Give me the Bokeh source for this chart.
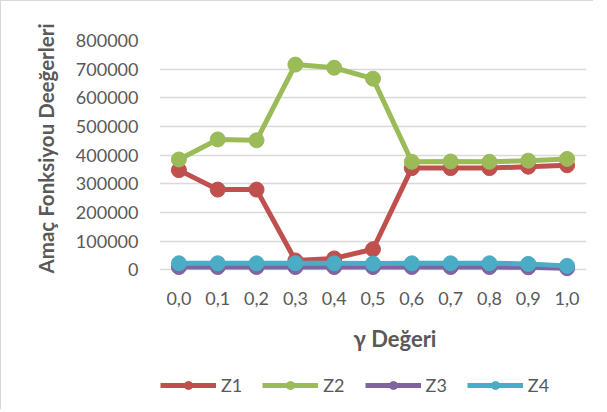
from bokeh.plotting import figure
from bokeh.models import Range1d, Legend, LegendItem, FixedTicker, ColumnDataSource, Title
from bokeh.layouts import column
from bokeh.embed import file_html
from bokeh.resources import INLINE

categories = ["0,0", "0,1", "0,2", "0,3", "0,4", "0,5", "0,6", "0,7", "0,8", "0,9", "1,0"]
z1 = [348000, 280000, 280000, 33000, 40000, 72000, 355000, 355000, 355000, 360000, 365000]
z2 = [385000, 455000, 452000, 716000, 705000, 667000, 377000, 378000, 377000, 381000, 387000]
z3 = [10000, 10000, 10000, 10000, 10000, 10000, 10000, 10000, 10000, 9000, 6000]
z4 = [23000, 23000, 23000, 23000, 23000, 22000, 23000, 23000, 23000, 21000, 14000]
series_names = ["Z1", "Z2", "Z3", "Z4"]
colors = ["#C0504D", "#9BBB59", "#8064A2", "#4BACC6"]
y_ticks = [0, 100000, 200000, 300000, 400000, 500000, 600000, 700000, 800000]

FONT = "Lato"
GRAY = "#595959"

xs = list(range(len(categories)))
src = ColumnDataSource(dict(x=xs, Z1=z1, Z2=z2, Z3=z3, Z4=z4))

p = figure(frame_width=426, frame_height=237, output_backend="svg", toolbar_location=None,
           x_range=Range1d(-0.5, len(categories) - 0.5),
           y_range=Range1d(-30000, 800000),
           min_border_left=158, min_border_top=39, min_border_right=8, min_border_bottom=0)
p.styles = {"border-left": "1px solid #d9d9d9", "border-top": "1px solid #d9d9d9"}
p.outline_line_color = None
p.background_fill_color = "white"
p.border_fill_color = "white"

# axes
p.xaxis.ticker = FixedTicker(ticks=xs)
p.xaxis.major_label_overrides = {i: c for i, c in enumerate(categories)}
p.yaxis.ticker = FixedTicker(ticks=y_ticks)
p.yaxis.formatter.use_scientific = False
for ax in (p.xaxis[0], p.yaxis[0]):
    ax.axis_line_color = None
    ax.major_tick_line_color = None
    ax.minor_tick_line_color = None
    ax.major_label_text_font = FONT
    ax.major_label_text_font_size = "18px"
    ax.major_label_text_color = GRAY
p.yaxis.major_label_standoff = 15
p.xaxis.major_label_standoff = 7

p.xgrid.grid_line_color = None
p.ygrid.grid_line_color = "#d9d9d9"
p.ygrid.grid_line_width = 1.5
p.ygrid.ticker = FixedTicker(ticks=y_ticks)

for name, col in zip(series_names, colors):
    p.line("x", name, source=src, line_color=col, line_width=5)
    p.scatter("x", name, source=src, size=15, fill_color=col, line_color=col)

ytitle = Title(text="Amaç Fonksiyou Deeğerleri", align="left", offset=5, standoff=30,
               text_font=FONT, text_font_size="20.5px", text_font_style="bold", text_color=GRAY)
p.add_layout(ytitle, "left")

xtitle = Title(text="γ Değeri", align="left", offset=194, standoff=30,
               text_font=FONT, text_font_size="22px", text_font_style="bold", text_color=GRAY)
p.add_layout(xtitle, "below")

# legend strip: same series, drawn in a second figure whose view keeps the marks out of sight
lg = figure(width=591, height=44, output_backend="svg", toolbar_location=None,
            x_range=Range1d(-0.5, len(categories) - 0.5), y_range=Range1d(-3e6, -2e6),
            min_border=0)
lg.styles = {"border-left": "1px solid #d9d9d9"}
lg.axis.visible = False
lg.grid.visible = False
lg.outline_line_color = None
items = []
for name, col in zip(series_names, colors):
    l = lg.line("x", name, source=src, line_color=col, line_width=5)
    s = lg.scatter("x", name, source=src, size=15, fill_color=col, line_color=col)
    items.append(LegendItem(label=name, renderers=[l, s]))

legend = Legend(items=items, orientation="horizontal", location=(1, 13),
                glyph_width=56, glyph_height=20, label_standoff=5, spacing=20,
                label_text_font=FONT, label_text_font_size="18px", label_text_color=GRAY,
                border_line_color=None, background_fill_alpha=0, padding=4, margin=0)
lg.add_layout(legend, "center")

layout = column(p, lg, spacing=0)
open("out.html", "w").write(file_html(layout, INLINE))
